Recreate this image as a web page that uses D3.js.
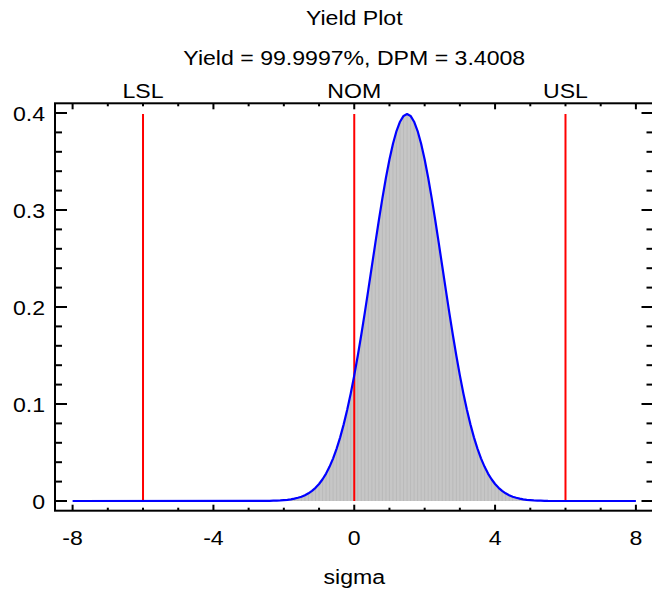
<!DOCTYPE html>
<html>
<head>
<meta charset="utf-8">
<script src="https://cdn.jsdelivr.net/npm/d3@7"></script>
<style>
  html, body { margin: 0; padding: 0; background: #fff; }
  svg { display: block; }
  text { font-family: "Liberation Sans", Arial, sans-serif; fill: #000; }
</style>
</head>
<body>
<svg id="chart" width="652" height="598"></svg>
<script>
// ---------- data ----------
const titleText = "Yield Plot";
const subtitleText = "Yield = 99.9997%, DPM = 3.4008";
const xAxisLabel = "sigma";
const xTickValues = [-8, -4, 0, 4, 8];
const xMinorTicks = [-7, -6, -5, -3, -2, -1, 1, 2, 3, 5, 6, 7];
const yTickValues = [0, 0.1, 0.2, 0.3, 0.4];
const yTickLabels = ["0", "0.1", "0.2", "0.3", "0.4"];
const yMinorTicks = [0.02, 0.04, 0.06, 0.08, 0.12, 0.14, 0.16, 0.18, 0.22, 0.24, 0.26, 0.28, 0.32, 0.34, 0.36, 0.38];
const specNames = ["LSL", "NOM", "USL"];
const specValues = [-6, 0, 6];
const sigmaValues = [-8,
  -2.5, -2.4, -2.3, -2.2, -2.1, -2.0, -1.9, -1.8, -1.7, -1.6,
  -1.5, -1.4, -1.3, -1.2, -1.1, -1.0, -0.9, -0.8, -0.7, -0.6,
  -0.5, -0.4, -0.3, -0.2, -0.1, 0.0, 0.1, 0.2, 0.3, 0.4,
  0.5, 0.6, 0.7, 0.8, 0.9, 1.0, 1.1, 1.2, 1.3, 1.4,
  1.5, 1.6, 1.7, 1.8, 1.9, 2.0, 2.1, 2.2, 2.3, 2.4,
  2.5, 2.6, 2.7, 2.8, 2.9, 3.0, 3.1, 3.2, 3.3, 3.4,
  3.5, 3.6, 3.7, 3.8, 3.9, 4.0, 4.1, 4.2, 4.3, 4.4,
  4.5, 4.6, 4.7, 4.8, 4.9, 5.0, 5.1, 5.2, 5.3, 5.4,
  5.5, 8];
const densityValues = [0,
  0.0001, 0.0002, 0.0003, 0.0004, 0.0006, 0.0009, 0.0012, 0.0017, 0.0024, 0.0033,
  0.0044, 0.0060, 0.0079, 0.0104, 0.0136, 0.0175, 0.0224, 0.0283, 0.0355, 0.0440,
  0.0540, 0.0656, 0.0790, 0.0940, 0.1109, 0.1295, 0.1497, 0.1714, 0.1942, 0.2179,
  0.2420, 0.2661, 0.2897, 0.3123, 0.3332, 0.3521, 0.3683, 0.3814, 0.3910, 0.3970,
  0.3989, 0.3970, 0.3910, 0.3814, 0.3683, 0.3521, 0.3332, 0.3123, 0.2897, 0.2661,
  0.2420, 0.2179, 0.1942, 0.1714, 0.1497, 0.1295, 0.1109, 0.0940, 0.0790, 0.0656,
  0.0540, 0.0440, 0.0355, 0.0283, 0.0224, 0.0175, 0.0136, 0.0104, 0.0079, 0.0060,
  0.0044, 0.0033, 0.0024, 0.0017, 0.0012, 0.0009, 0.0006, 0.0004, 0.0003, 0.0002,
  0.0001, 0];

// ---------- layout ----------
const W = 652, H = 598;
const frame = { left: 55, right: 653.5, top: 103.3, bottom: 510.7 };
const FS = 21, SX = 1.1;

const svg = d3.select("#chart");
svg.append("rect").attr("width", W).attr("height", H).attr("fill", "#fff");

const x = d3.scaleLinear().domain([-8.5, 8.5]).range([frame.left, frame.right]);
const y = d3.scaleLinear().domain([-0.01, 0.41]).range([frame.bottom, frame.top]);

const pts = sigmaValues.map((s, i) => ({ s, d: densityValues[i] }));

function stretchedText(g, txt, px, py, anchor) {
  return g.append("text")
    .attr("transform", `translate(${px},${py}) scale(${SX},1)`)
    .attr("text-anchor", anchor || "middle")
    .attr("font-size", FS)
    .text(txt);
}

// gray fill
const inner = pts.filter(p => p.s > -8 && p.s < 8);
svg.append("path")
  .datum(inner)
  .attr("fill", "#c6c6c6")
  .attr("d", d3.area().x(p => x(p.s)).y0(y(0)).y1(p => y(p.d)));
svg.append("g").selectAll("line").data(inner).join("line")
  .attr("x1", p => x(p.s)).attr("x2", p => x(p.s))
  .attr("y1", y(0)).attr("y2", p => y(p.d))
  .attr("stroke", "#b4b4b4").attr("stroke-width", 0.7);

// spec lines
const peak = d3.max(densityValues);
svg.append("g").selectAll("line").data(specValues).join("line")
  .attr("x1", d => x(d)).attr("x2", d => x(d))
  .attr("y1", y(0)).attr("y2", y(peak))
  .attr("stroke", "#ff0000").attr("stroke-width", 2);

// curve
svg.append("path")
  .datum(pts)
  .attr("fill", "none")
  .attr("stroke", "#0000ff")
  .attr("stroke-width", 2.2)
  .attr("stroke-linejoin", "round")
  .attr("d", d3.line().x(p => x(p.s)).y(p => y(p.d)));

// frame
svg.append("rect")
  .attr("x", frame.left).attr("y", frame.top)
  .attr("width", frame.right - frame.left).attr("height", frame.bottom - frame.top)
  .attr("fill", "none").attr("stroke", "#000").attr("stroke-width", 2);

// ticks (inward)
const tk = svg.append("g").attr("stroke", "#000").attr("stroke-width", 2);
xTickValues.forEach(v => {
  tk.append("line").attr("x1", x(v)).attr("x2", x(v)).attr("y1", frame.bottom).attr("y2", frame.bottom - 6);
  tk.append("line").attr("x1", x(v)).attr("x2", x(v)).attr("y1", frame.top).attr("y2", frame.top + 6);
});
xMinorTicks.forEach(v => {
  tk.append("line").attr("x1", x(v)).attr("x2", x(v)).attr("y1", frame.bottom).attr("y2", frame.bottom - 3);
  tk.append("line").attr("x1", x(v)).attr("x2", x(v)).attr("y1", frame.top).attr("y2", frame.top + 3);
});
yTickValues.forEach(v => {
  tk.append("line").attr("y1", y(v)).attr("y2", y(v)).attr("x1", frame.left).attr("x2", frame.left + 12);
  tk.append("line").attr("y1", y(v)).attr("y2", y(v)).attr("x1", frame.right).attr("x2", frame.right - 12);
});
yMinorTicks.forEach(v => {
  tk.append("line").attr("y1", y(v)).attr("y2", y(v)).attr("x1", frame.left).attr("x2", frame.left + 7);
  tk.append("line").attr("y1", y(v)).attr("y2", y(v)).attr("x1", frame.right).attr("x2", frame.right - 7);
});

// tick labels
const lab = svg.append("g");
xTickValues.forEach(v => stretchedText(lab, String(v), x(v), 545, "middle"));
yTickValues.forEach((v, i) => stretchedText(lab, yTickLabels[i], 45, y(v) + 7.5, "end"));

// spec labels
specValues.forEach((v, i) => stretchedText(lab, specNames[i], x(v), 98, "middle"));

// titles
stretchedText(lab, titleText, x(0), 25, "middle");
stretchedText(lab, subtitleText, x(0), 65, "middle");
stretchedText(lab, xAxisLabel, x(0), 584, "middle");
</script>
</body>
</html>
